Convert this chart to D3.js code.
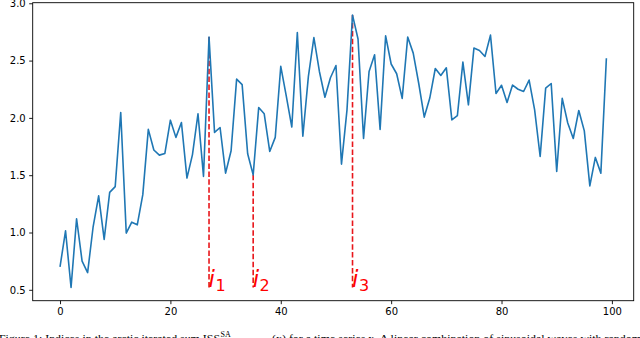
<!DOCTYPE html>
<html>
<head>
<meta charset="utf-8">
<script src="https://cdn.jsdelivr.net/npm/d3@7"></script>
<style>
  html, body { margin: 0; padding: 0; background: #fff; }
  svg { display: block; }
</style>
</head>
<body>
<svg id="chart" width="640" height="338"></svg>
<script>
const values = [
  0.70, 1.015, 0.52, 1.12, 0.75, 0.65, 1.05, 1.32, 0.94, 1.35,
  1.40, 2.047, 0.995, 1.09, 1.067, 1.33, 1.90, 1.72, 1.675, 1.69,
  1.98, 1.83, 1.96, 1.475, 1.68, 2.036, 1.49, 2.705, 1.873, 1.916,
  1.518, 1.713, 2.338, 2.29, 1.687, 1.503, 2.09, 2.036, 1.707, 1.83,
  2.45, 2.19, 1.92, 2.745, 1.84, 2.36, 2.70, 2.405, 2.18, 2.35,
  2.457, 1.597, 2.07, 2.897, 2.688, 1.82, 2.405, 2.55, 1.90, 2.716,
  2.47, 2.385, 2.17, 2.705, 2.565, 2.30, 2.007, 2.173, 2.431, 2.37,
  2.437, 1.983, 2.02, 2.487, 2.114, 2.609, 2.588, 2.536, 2.722, 2.213,
  2.285, 2.135, 2.286, 2.25, 2.23, 2.33, 2.07, 1.663, 2.26, 2.30,
  1.532, 2.17, 1.955, 1.82, 2.065, 1.887, 1.407, 1.655, 1.518, 2.52
];
const markedIndices = [27, 35, 53];
const markedLabels = ["1", "2", "3"];
const xTicks = [0, 20, 40, 60, 80, 100];
const yTicks = [0.5, 1.0, 1.5, 2.0, 2.5, 3.0];
const captionA = "Figure 1: Indices in the arctic iterated sum ISS";
const captionSup = "SA";
const captionB = "(x) for a time series x. A linear combination of sinusoidal waves with random";

const svg = d3.select("#chart");
const L = 32.7, R = 633.7, T = 2.7, B = 300.7;

const x = d3.scaleLinear().domain([-4.95, 103.95]).range([L, R]);
const y = d3.scaleLinear().domain([0.405, 3.005]).range([B, T]);

// frame
svg.append("rect")
  .attr("x", L).attr("y", T).attr("width", R - L).attr("height", B - T)
  .attr("fill", "none").attr("stroke", "#000").attr("stroke-width", 0.9);

// axes
const xAxis = d3.axisBottom(x).tickValues(xTicks).tickSize(3.5).tickPadding(3.5)
  .tickFormat(d3.format("d"));
const gx = svg.append("g").attr("transform", `translate(0,${B})`).call(xAxis);
const yAxis = d3.axisLeft(y).tickValues(yTicks).tickSize(3.5).tickPadding(3.5)
  .tickFormat(d3.format(".1f"));
const gy = svg.append("g").attr("transform", `translate(${L},0)`).call(yAxis);
[gx, gy].forEach(g => {
  g.select(".domain").remove();
  g.selectAll(".tick line").attr("stroke", "#000").attr("stroke-width", 0.9);
  g.selectAll(".tick text").attr("fill", "#000")
    .style("font-family", "'DejaVu Sans', sans-serif").style("font-size", "10px");
});

// red dashed markers
svg.append("g").selectAll("line").data(markedIndices).join("line")
  .attr("x1", d => x(d)).attr("x2", d => x(d))
  .attr("y1", d => y(values[d])).attr("y2", y(0.52))
  .attr("stroke", "#e8161b").attr("stroke-width", 1.6)
  .attr("stroke-dasharray", "5.5,2.4");

// series line
const line = d3.line().x((d, i) => x(i)).y(d => y(d));
svg.append("path").datum(values)
  .attr("d", line)
  .attr("fill", "none").attr("stroke", "#1f77b4").attr("stroke-width", 1.6)
  .attr("stroke-linejoin", "round");

// labels
const lab = svg.append("g").selectAll("text").data(markedIndices).join("text")
  .attr("x", d => x(d) - 0.5).attr("y", y(0.5) - 3)
  .attr("fill", "#ff0000")
  .style("font-family", "'DejaVu Sans', sans-serif");
lab.append("tspan").text("i").style("font-style", "italic").style("font-size", "23px");
lab.append("tspan").text((d, k) => markedLabels[k]).attr("dy", 4).attr("dx", 0.5)
  .style("font-size", "16px");

// caption (cut off at bottom, as in the reference)
const cap = svg.append("g").style("font-family", "'Liberation Serif', 'Times New Roman', serif")
  .style("font-size", "11px").attr("fill", "#000");
cap.append("text").attr("x", -1).attr("y", 341.5).attr("textLength", 221)
  .attr("lengthAdjust", "spacingAndGlyphs").text(captionA);
cap.append("text").attr("x", 220.5).attr("y", 337).style("font-size", "8px").text(captionSup);
cap.append("text").attr("x", 272).attr("y", 341.5).attr("textLength", 369)
  .attr("lengthAdjust", "spacingAndGlyphs").text(captionB);
</script>
</body>
</html>
